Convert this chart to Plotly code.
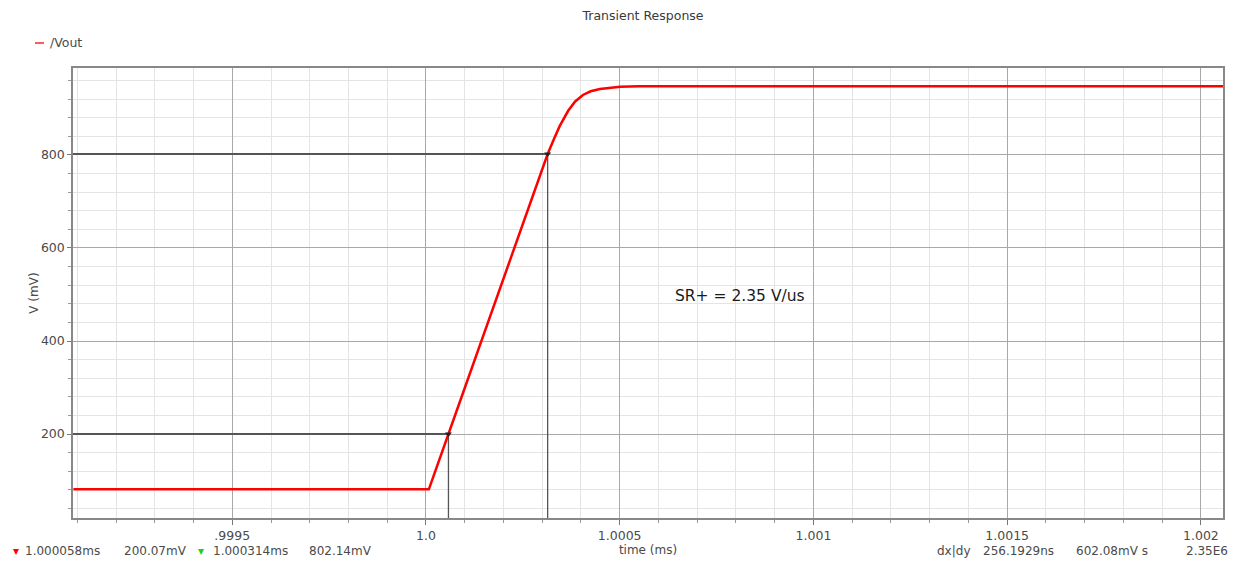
import plotly.graph_objects as go

# ---- data (time in ms, voltage in mV) ----
t_ms = [0.99909, 1.0000074, 1.000058, 1.000314, 1.000330, 1.000345, 1.000367,
        1.000385, 1.000405, 1.000425, 1.000449, 1.000475, 1.000501, 1.00055,
        1.00065, 1.002057]
v_mv = [81.0, 81.0, 200.07, 802.14, 834.0, 862.0, 895.0,
        915.0, 929.0, 937.0, 942.0, 945.0, 946.5, 947.5,
        948.0, 948.0]

cursor_t = [1.000058, 1.000314]
cursor_v = [200.07, 802.14]
cursor_text = [["1.000058ms", "200.07mV"], ["1.000314ms", "802.14mV"]]
delta_text = ["dx|dy", "256.1929ns", "602.08mV s", "2.35E6"]

x_range = [0.999089, 1.002057]
y_range = [19.4, 987.0]

x_tickvals = [0.9995, 1.0, 1.0005, 1.001, 1.0015, 1.002]
x_ticktext = [".9995", "1.0", "1.0005", "1.001", "1.0015", "1.002"]
y_tickvals = [200, 400, 600, 800]

FONT = "DejaVu Sans"
TXT = "#4a4a4a"

W, H = 1238, 564
ML, MR, MT, MB = 73, 15, 68, 46
PW, PH = W - ML - MR, H - MT - MB


def px(x):
    return (x - ML) / PW


def py(y):
    return (H - MB - y) / PH


fig = go.Figure()

# cursor lines
for ct, cv in zip(cursor_t, cursor_v):
    fig.add_trace(go.Scatter(x=[x_range[0], ct], y=[cv, cv], mode="lines",
                             line=dict(color="#555555", width=2),
                             hoverinfo="skip", showlegend=False))
    fig.add_trace(go.Scatter(x=[ct, ct], y=[cv, y_range[0]], mode="lines",
                             line=dict(color="#555555", width=1.3),
                             hoverinfo="skip", showlegend=False))

# main waveform
fig.add_trace(go.Scatter(x=t_ms, y=v_mv, mode="lines", name="/Vout",
                         line=dict(color="#ff0000", width=2.5),
                         showlegend=False))

# cursor markers
fig.add_trace(go.Scatter(x=cursor_t, y=cursor_v, mode="markers",
                         marker=dict(symbol="triangle-down", size=6, color="#222222"),
                         hoverinfo="skip", showlegend=False))

fig.update_layout(
    width=W, height=H,
    margin=dict(l=ML, r=MR, t=MT, b=MB),
    paper_bgcolor="white", plot_bgcolor="white",
    font=dict(family=FONT, size=12, color=TXT),
    title=dict(text="Transient Response", x=px(643), xref="paper", xanchor="center",
               y=1 - 16 / H, yanchor="middle", font=dict(size=12.5, color="#3a3a3a")),
    xaxis=dict(range=x_range, tickvals=x_tickvals, ticktext=x_ticktext,
               showgrid=True, gridcolor="#a8a8a8", gridwidth=1.2,
               ticks="outside", ticklen=5, tickcolor="#777777",
               minor=dict(dtick=0.0001, showgrid=True, gridcolor="#e4e4e4",
                          ticks="outside", ticklen=3, tickcolor="#999999"),
               showline=True, linecolor="#888888", linewidth=1.5, mirror=True,
               zeroline=False, tickfont=dict(size=12.5, color=TXT),
               title=dict(text="time (ms)", standoff=1, font=dict(size=12, color=TXT))),
    yaxis=dict(range=y_range, tickvals=y_tickvals,
               showgrid=True, gridcolor="#a8a8a8", gridwidth=1.2,
               ticks="outside", ticklen=4, tickcolor="#777777",
               minor=dict(dtick=40, tick0=0, showgrid=True, gridcolor="#e4e4e4",
                          ticks="outside", ticklen=3, tickcolor="#999999"),
               showline=True, linecolor="#888888", linewidth=1.5, mirror=True,
               zeroline=False, tickfont=dict(size=12.5, color=TXT),
               title=dict(text="V (mV)", standoff=0, font=dict(size=12, color=TXT))),
)

# legend (red dash + label)
fig.add_shape(type="line", xref="paper", yref="paper",
              x0=px(35), x1=px(44), y0=py(43), y1=py(43),
              line=dict(color="#ff5a5a", width=2))
fig.add_annotation(x=px(48), y=py(43), xref="paper", yref="paper",
                   text="/Vout", xanchor="left", yanchor="middle",
                   showarrow=False, font=dict(size=12.5, color=TXT))

# SR annotation
fig.add_annotation(x=px(740), y=py(296), xref="paper", yref="paper",
                   text="SR+ = 2.35 V/us", showarrow=False,
                   font=dict(size=15.5, color="#1a1a1a", family=FONT))

# bottom readouts
BY = py(551)
readouts = [
    (11, "<span style='color:#ff0000'>▾</span>", 12),
    (23, cursor_text[0][0], 12),
    (122, cursor_text[0][1], 12),
    (196, "<span style='color:#22cc22'>▾</span>", 12),
    (211, cursor_text[1][0], 12),
    (307, cursor_text[1][1], 12),
    (935, delta_text[0], 12),
    (981, delta_text[1], 12),
    (1074, delta_text[2], 12),
    (1184, delta_text[3], 12),
]
for xl, txt, sz in readouts:
    fig.add_annotation(x=px(xl), y=BY, xref="paper", yref="paper",
                       xanchor="left", yanchor="middle", showarrow=False,
                       text=txt, font=dict(size=sz, color=TXT))

fig.write_html("out.html")
